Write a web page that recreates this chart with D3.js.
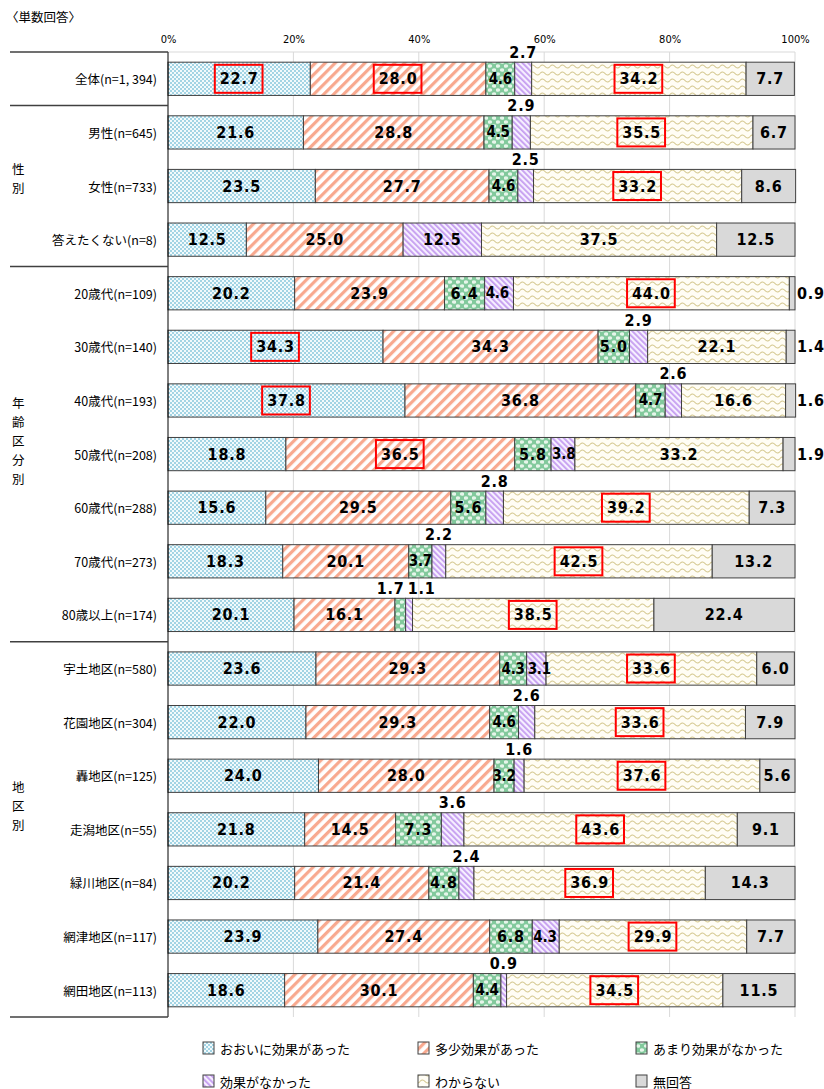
<!DOCTYPE html>
<html><head><meta charset="utf-8">
<script src="https://cdn.jsdelivr.net/npm/d3@7"></script>
<style>
html,body{margin:0;padding:0;background:#fff;}
svg{display:block;}
</style></head>
<body>
<svg id="chart" width="824" height="1089"></svg>
<script>
// ---- data ----
const series = ["おおいに効果があった","多少効果があった","あまり効果がなかった","効果がなかった","わからない","無回答"];
const categories = ["全体(n=1, 394)","男性(n=645)","女性(n=733)","答えたくない(n=8)",
  "20歳代(n=109)","30歳代(n=140)","40歳代(n=193)","50歳代(n=208)","60歳代(n=288)","70歳代(n=273)","80歳以上(n=174)",
  "宇土地区(n=580)","花園地区(n=304)","轟地区(n=125)","走潟地区(n=55)","緑川地区(n=84)","網津地区(n=117)","網田地区(n=113)"];
const valOoini   = [22.7,21.6,23.5,12.5,20.2,34.3,37.8,18.8,15.6,18.3,20.1,23.6,22.0,24.0,21.8,20.2,23.9,18.6];
const valTashou  = [28.0,28.8,27.7,25.0,23.9,34.3,36.8,36.5,29.5,20.1,16.1,29.3,29.3,28.0,14.5,21.4,27.4,30.1];
const valAmari   = [4.6,4.5,4.6,0,6.4,5.0,4.7,5.8,5.6,3.7,1.7,4.3,4.6,3.2,7.3,4.8,6.8,4.4];
const valNakatta = [2.7,2.9,2.5,12.5,4.6,2.9,2.6,3.8,2.8,2.2,1.1,3.1,2.6,1.6,3.6,2.4,4.3,0.9];
const valWakaranai = [34.2,35.5,33.2,37.5,44.0,22.1,16.6,33.2,39.2,42.5,38.5,33.6,33.6,37.6,43.6,36.9,29.9,34.5];
const valMukaitou  = [7.7,6.7,8.6,12.5,0.9,1.4,1.6,1.9,7.3,13.2,22.4,6.0,7.9,5.6,9.1,14.3,7.7,11.5];
const tickValues = [0,20,40,60,80,100];
const groups = [
  {label:"性別", first:1, last:3},
  {label:"年齢区分別", first:4, last:10},
  {label:"地区別", first:11, last:17}
];
// highlighted (red-boxed) values: [category index, series index]
const highlighted = [[0,0],[0,1],[0,4],[1,4],[2,4],[4,4],[5,0],[6,0],[7,1],[8,4],[9,4],[10,4],
  [11,4],[12,4],[13,4],[14,4],[15,4],[16,4],[17,4]];
// small values whose label sits inside the bar although small
const insideSmall = [[11,3]];
const title = "〈単数回答〉";

const allVals = [valOoini,valTashou,valAmari,valNakatta,valWakaranai,valMukaitou];

// ---- layout ----
const svg = d3.select("#chart");
const plotL = 168, plotR = 795, plotT = 52, plotB = 1017;
const x = d3.scaleLinear().domain([0,100]).range([plotL, plotR]);
const y = d3.scaleBand().domain(categories).range([plotT, plotB]).paddingInner(0.38).paddingOuter(0.19);

const JP = "'Noto Sans CJK JP','Noto Sans',sans-serif";
const NUM = "'DejaVu Sans Condensed','DejaVu Sans',sans-serif";

// ---- patterns ----
const defs = svg.append("defs");
// checker (blue)
let p = defs.append("pattern").attr("id","pat0").attr("patternUnits","userSpaceOnUse").attr("width",4).attr("height",4);
p.append("rect").attr("width",4).attr("height",4).attr("fill","#f2fafc");
p.append("rect").attr("width",2).attr("height",2).attr("fill","#a3d4e4");
p.append("rect").attr("x",2).attr("y",2).attr("width",2).attr("height",2).attr("fill","#a3d4e4");
// salmon stripes "/"
p = defs.append("pattern").attr("id","pat1").attr("patternUnits","userSpaceOnUse").attr("width",7).attr("height",7)
  .attr("patternTransform","rotate(45)");
p.append("rect").attr("width",7).attr("height",7).attr("fill","#ffffff");
p.append("rect").attr("width",3.2).attr("height",7).attr("fill","#f8a98f");
// green with white blobs
p = defs.append("pattern").attr("id","pat2").attr("patternUnits","userSpaceOnUse").attr("width",8).attr("height",8);
p.append("rect").attr("width",8).attr("height",8).attr("fill","#82c99c");
p.append("ellipse").attr("cx",2).attr("cy",2).attr("rx",2.2).attr("ry",1.8).attr("fill","#e6f5ea");
p.append("ellipse").attr("cx",6).attr("cy",6).attr("rx",2.2).attr("ry",1.8).attr("fill","#e6f5ea");
// purple stripes "\"
p = defs.append("pattern").attr("id","pat3").attr("patternUnits","userSpaceOnUse").attr("width",4).attr("height",4)
  .attr("patternTransform","rotate(-45)");
p.append("rect").attr("width",4).attr("height",4).attr("fill","#f6efff");
p.append("rect").attr("width",1.8).attr("height",4).attr("fill","#c59df0");
// wave (beige)
p = defs.append("pattern").attr("id","pat4").attr("patternUnits","userSpaceOnUse").attr("width",10).attr("height",7);
p.append("rect").attr("width",10).attr("height",7).attr("fill","#fffdf5");
p.append("path").attr("d","M0,3.5 Q2.5,0.5 5,3.5 T10,3.5").attr("fill","none").attr("stroke","#d3c68b").attr("stroke-width",1.1);
const fills = ["url(#pat0)","url(#pat1)","url(#pat2)","url(#pat3)","url(#pat4)","#d9d9d9"];

// ---- grid ----
svg.append("line").attr("x1",plotL).attr("x2",plotR).attr("y1",plotT).attr("y2",plotT).attr("stroke","#d9d9d9");
svg.append("g").selectAll("line").data(tickValues.filter(d=>d>0)).join("line")
  .attr("x1",d=>x(d)).attr("x2",d=>x(d)).attr("y1",plotT).attr("y2",plotB)
  .attr("stroke","#d9d9d9").attr("stroke-width",1);

// ---- axis ----
const ax = svg.append("g").attr("transform",`translate(0,${plotT-9})`)
  .call(d3.axisTop(x).tickValues(tickValues).tickFormat(d=>d+"%").tickSize(0).tickPadding(0));
ax.select(".domain").remove();
ax.selectAll("text").attr("font-family",NUM).attr("font-size",11).attr("fill","#000");

// title
svg.append("text").attr("x",6).attr("y",22).text(title).attr("font-family",JP).attr("font-size",12.5).attr("fill","#000");

// ---- bars ----
const rows = categories.map((c,i)=>{
  let cum = 0;
  return allVals.map((arr,s)=>{ const v = arr[i]; const seg = {cat:c, i, s, v, x0:cum, x1:cum+v}; cum += v; return seg; });
});
const gBars = svg.append("g");
rows.forEach(r=>{
  gBars.selectAll(null).data(r.filter(d=>d.v>0)).join("rect")
    .attr("x",d=>x(d.x0)).attr("width",d=>x(d.x1)-x(d.x0))
    .attr("y",d=>y(d.cat)).attr("height",y.bandwidth())
    .attr("fill",d=>fills[d.s]).attr("stroke","#404040").attr("stroke-width",1);
});

// ---- labels ----
const isIn = (list,i,s)=>list.some(h=>h[0]===i&&h[1]===s);
const gLab = svg.append("g");
rows.forEach(r=>{
  r.forEach(d=>{
    if (d.v<=0) return;
    const txt = d.v.toFixed(1);
    let tx = x((d.x0+d.x1)/2), ty = y(d.cat)+y.bandwidth()/2, anchor="middle", base="central";
    let pos = "in";
    if (d.s===5 && d.v<3) pos = "right";
    if (d.s===3 && d.v<3.7 && !isIn(insideSmall,d.i,d.s)) pos = "above";
    if (d.s===2 && d.v<2) pos = "above";
    if (pos==="right"){ tx = x(100)+2; anchor="start"; }
    if (pos==="above"){
      ty = y(d.cat)-10;
      const g2 = r[2], g3 = r[3];
      const bothAbove = g2.v>0 && g2.v<2 && g3.v<3.7;
      if (bothAbove){
        const mid = x(g3.x0);
        if (d.s===2){ tx = mid-1; anchor="end"; } else { tx = mid+2; anchor="start"; }
      }
    }
    const segW = x(d.x1)-x(d.x0);
    const narrow = pos==="in" && segW < 30;
    if (narrow && d.s===3) { tx = x(d.x0)+1; anchor="start"; }
    const t = gLab.append("text").attr("x",tx).attr("y",ty).attr("text-anchor",anchor)
      .attr("dominant-baseline",base).attr("font-family",NUM)
      .attr("font-weight","bold").attr("font-size",narrow?15:16).attr("letter-spacing",narrow?-0.2:0.8)
      .attr("fill","#000").text(txt);
    if (isIn(highlighted,d.i,d.s)){
      const bb = t.node().getBBox();
      gLab.append("rect").attr("x",bb.x-5).attr("y",y(d.cat)+y.bandwidth()/2-14)
        .attr("width",bb.width+9).attr("height",28)
        .attr("fill","none").attr("stroke","#ff0000").attr("stroke-width",2);
    }
  });
});

// ---- category labels ----
svg.append("g").selectAll("text").data(categories).join("text")
  .attr("x",157).attr("y",d=>y(d)+y.bandwidth()/2).attr("text-anchor","end").attr("dominant-baseline","central")
  .attr("font-family",JP).attr("font-size",12.5).attr("fill","#000").text(d=>d);

// ---- left frame / separators ----
svg.append("line").attr("x1",plotL).attr("x2",plotL).attr("y1",plotT).attr("y2",plotB).attr("stroke","#000").attr("stroke-width",1);
const step = y.step();
const sepYs = [plotT, plotT+step, plotT+4*step, plotT+11*step, plotB];
svg.append("g").selectAll("line").data(sepYs).join("line")
  .attr("x1",10).attr("x2",plotL).attr("y1",d=>d).attr("y2",d=>d).attr("stroke","#404040").attr("stroke-width",1.5);

// group labels (vertical stacked)
const groupOffset = [-8,-14,-24];
groups.forEach((g,gi)=>{
  const top = y(categories[g.first]) - (step-y.bandwidth())/2;
  const bot = y(categories[g.last]) + y.bandwidth() + (step-y.bandwidth())/2;
  const chars = Array.from(g.label);
  const lh = 19;
  const c = (top+bot)/2 + groupOffset[gi];
  const start = c - (chars.length-1)*lh/2;
  svg.append("g").selectAll("text").data(chars).join("text")
    .attr("x",12).attr("y",(d,k)=>start+k*lh).attr("dominant-baseline","central")
    .attr("font-family",JP).attr("font-size",12.5).attr("fill","#000").text(d=>d);
});

// ---- legend ----
const legX = [203,418,636], legY = [1048,1081];
const lg = svg.append("g");
series.forEach((s,k)=>{
  const lx = legX[k%3], ly = legY[Math.floor(k/3)];
  lg.append("rect").attr("x",lx).attr("y",ly-6).attr("width",11).attr("height",12)
    .attr("fill",fills[k]).attr("stroke","#404040").attr("stroke-width",1);
  lg.append("text").attr("x",lx+17).attr("y",ly).attr("dominant-baseline","central")
    .attr("font-family",JP).attr("font-size",13).attr("fill","#000").text(s);
});
</script>
</body></html>
